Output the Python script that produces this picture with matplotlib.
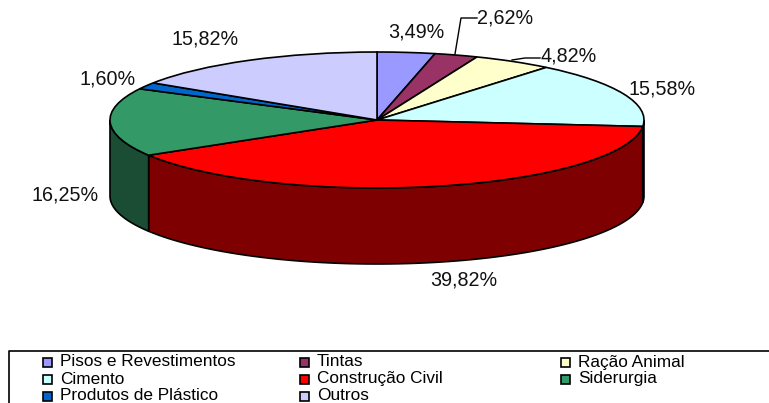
import numpy as np
import matplotlib
matplotlib.use("Agg")
import matplotlib.pyplot as plt
from matplotlib.patches import Rectangle

plt.rcParams["font.family"] = ["Liberation Sans", "DejaVu Sans"]

categories = ["Pisos e Revestimentos", "Tintas", "Ração Animal", "Cimento",
              "Construção Civil", "Siderurgia", "Produtos de Plástico", "Outros"]
values = [3.49, 2.62, 4.82, 15.58, 39.82, 16.25, 1.60, 15.82]
labels = ["3,49%", "2,62%", "4,82%", "15,58%", "39,82%", "16,25%", "1,60%", "15,82%"]
colors = ["#9999FF", "#993366", "#FFFFCC", "#CCFFFF", "#FF0000", "#339966", "#0066CC", "#CCCCFF"]
side_colors = ["#4D4D80", "#4D1A33", "#808066", "#668080", "#7F0000", "#1A4D33", "#003366", "#666680"]

W, H = 769, 403
cx, cy, rx, ry, depth = 377, 120, 267, 68, 76

fig = plt.figure(figsize=(W / 100, H / 100), dpi=100)

# pie axes: one data unit = rx across, ry down
ax = fig.add_axes([(cx - rx) / W, 1 - (cy + ry + depth) / H, 2 * rx / W, (2 * ry + depth) / H])
ax.pie(values, colors=colors, startangle=90, counterclock=False, radius=1,
       wedgeprops={"edgecolor": "black", "linewidth": 1.2, "zorder": 3})
ax.set_aspect("auto")
ax.set_xlim(-1, 1)
ax.set_ylim(-1 - depth / ry, 1)
for p in ax.patches:
    p.set_clip_on(False)

# side wall of the front half
d = depth / ry
edges = 90 - np.cumsum([0] + values) * 3.6
for i in range(len(values)):
    a0, a1 = edges[i], edges[i + 1]
    # keep only the part of the slice on the front of the disc
    for lo, hi in [(-180, 0), (-540, -360)]:
        s, e = max(a1, lo), min(a0, hi)
        if e <= s:
            continue
        t = np.radians(np.linspace(s, e, 80))
        x = np.cos(t)
        y = np.sin(t)
        ax.fill(np.r_[x, x[::-1]], np.r_[y, y[::-1] - d], facecolor=side_colors[i],
                edgecolor="black", linewidth=1.2, zorder=2, clip_on=False)

# overlay in pixel coordinates for labels and legend
ov = fig.add_axes([0, 0, 1, 1], facecolor="none")
ov.set_xlim(0, W)
ov.set_ylim(H, 0)
ov.axis("off")

label_pos = [(416, 32), (505, 18), (569, 56), (662, 89), (464, 280), (65, 195), (108, 79), (205, 39)]
for txt, (lx, ly) in zip(labels, label_pos):
    ov.text(lx, ly, txt, fontsize=14.2, ha="center", va="center", color="#111111")

ov.plot([455, 461, 477], [54, 18, 18], color="black", lw=1.0)
ov.plot([512, 525, 540], [60, 58, 58], color="black", lw=1.0)

# legend box runs off the right and bottom of the picture
ov.plot([W, 9, 9], [350.5, 350.5, H], color="black", lw=1.2, clip_on=False)
col_x = [43, 300, 561]
row_y = [362, 379, 396]
for i, name in enumerate(categories):
    r, c = divmod(i, 3)
    ov.add_patch(Rectangle((col_x[c], row_y[r] - 4), 9, 9, facecolor=colors[i],
                           edgecolor="black", linewidth=1.2))
    ov.text(col_x[c] + 17, row_y[r], name, fontsize=12.4, ha="left", va="center", color="black")

fig.savefig("out.png", dpi=100)
